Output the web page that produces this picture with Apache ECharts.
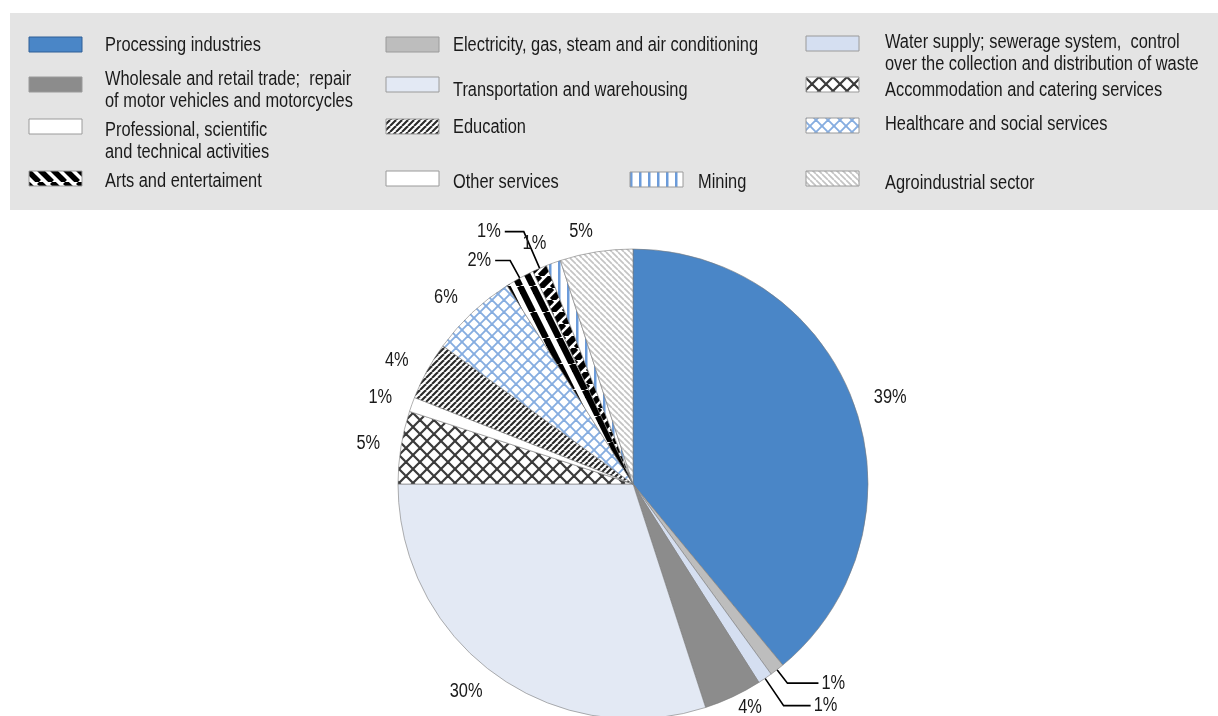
<!DOCTYPE html>
<html>
<head>
<meta charset="utf-8">
<script src="https://cdn.jsdelivr.net/npm/echarts@6/dist/echarts.min.js"></script>
<style>
  html, body { margin: 0; padding: 0; background: #ffffff; }
  #chart { width: 1218px; height: 716px; }
</style>
</head>
<body>
<div id="chart"></div>
<script>
// Sectors in the order they run clockwise round the pie, starting at 12 o'clock
const categories = [
  'Processing industries',
  'Electricity, gas, steam and air conditioning',
  'Water supply; sewerage system,  control over the collection and distribution of waste',
  'Wholesale and retail trade;  repair of motor vehicles and motorcycles',
  'Transportation and warehousing',
  'Accommodation and catering services',
  'Professional, scientific and technical activities',
  'Education',
  'Healthcare and social services',
  'Arts and entertaiment',
  'Other services',
  'Mining',
  'Agroindustrial sector'
];

// Share of each sector, %
const shares = [39, 1, 1, 4, 30, 5, 1, 4, 6, 2, 1, 1, 5];

// Legend captions as they wrap in the key
const legendCaptions = [
  'Processing industries',
  'Electricity, gas, steam and air conditioning',
  'Water supply; sewerage system,  control\nover the collection and distribution of waste',
  'Wholesale and retail trade;  repair\nof motor vehicles and motorcycles',
  'Transportation and warehousing',
  'Accommodation and catering services',
  'Professional, scientific\nand technical activities',
  'Education',
  'Healthcare and social services',
  'Arts and entertaiment',
  'Other services',
  'Mining',
  'Agroindustrial sector'
];

// Arial-metric face, squeezed horizontally to a narrow cut
const FONT = '"Liberation Sans", Arial, sans-serif';
const NARROW = 0.82;

// ---- fill patterns -------------------------------------------------------
function tile(w, h, bg, draw) {
  const c = document.createElement('canvas');
  c.width = w; c.height = h;
  const g = c.getContext('2d');
  g.fillStyle = bg;
  g.fillRect(0, 0, w, h);
  draw(g, w, h);
  return { image: c, repeat: 'repeat' };
}
// lines across a tile; dir > 0 draws '/', dir < 0 draws '\'
function diag(g, w, h, color, lw, dir) {
  g.strokeStyle = color;
  g.lineWidth = lw;
  for (const o of [-w, 0, w]) {
    g.beginPath();
    if (dir > 0) { g.moveTo(o, h); g.lineTo(o + w, 0); }
    else { g.moveTo(o, 0); g.lineTo(o + w, h); }
    g.stroke();
  }
}
const lattice = (s, color, lw) => tile(s, s, '#ffffff', (g, w, h) => {
  diag(g, w, h, color, lw, 1);
  diag(g, w, h, color, lw, -1);
});

const fills = {
  'Processing industries': '#4a86c7',
  'Electricity, gas, steam and air conditioning': '#bdbdbd',
  'Water supply; sewerage system,  control over the collection and distribution of waste': '#d5dff1',
  'Wholesale and retail trade;  repair of motor vehicles and motorcycles': '#8c8c8c',
  'Transportation and warehousing': '#e3e9f4',
  'Accommodation and catering services': lattice(14, '#3a3a3a', 2.2),
  'Professional, scientific and technical activities': '#ffffff',
  'Education': tile(6, 6, '#ffffff', (g, w, h) => diag(g, w, h, '#2a2a2a', 2.1, 1)),
  'Healthcare and social services': lattice(12, '#86ade0', 1.9),
  // steep wide stripes running along the narrow sector
  'Arts and entertaiment': tile(13, 26, '#ffffff', (g, w, h) => diag(g, w, h, '#000000', 6.5, -1)),
  'Other services': tile(12, 12, '#ffffff', (g, w, h) => diag(g, w, h, '#000000', 6, 1)),
  'Mining': tile(9, 9, '#ffffff', (g, w, h) => { g.fillStyle = '#6b9bda'; g.fillRect(0, 0, 2.5, h); }),
  'Agroindustrial sector': tile(6, 6, '#ffffff', (g, w, h) => diag(g, w, h, '#c4c4c4', 1.7, -1))
};
// key swatches that differ from the fill used in the pie
const keyFills = {
  'Arts and entertaiment': tile(13, 13, '#ffffff', (g, w, h) => diag(g, w, h, '#000000', 5.5, -1)),
  'Other services': '#ffffff'
};
const swatchStroke = {
  'Processing industries': '#2f5f96'
};

// ---- key layout: [swatch x, swatch y, caption x, first-line centre y] ----
const keySlots = {
  'Processing industries': [29, 37, 105, 45],
  'Wholesale and retail trade;  repair of motor vehicles and motorcycles': [29, 77, 105, 79],
  'Professional, scientific and technical activities': [29, 119, 105, 130],
  'Arts and entertaiment': [29, 171, 105, 181],
  'Electricity, gas, steam and air conditioning': [386, 37, 453, 45],
  'Transportation and warehousing': [386, 77, 453, 90],
  'Education': [386, 119, 453, 127],
  'Other services': [386, 171, 453, 182],
  'Mining': [630, 172, 698, 182],
  'Water supply; sewerage system,  control over the collection and distribution of waste': [806, 36, 885, 42],
  'Accommodation and catering services': [806, 77, 885, 90],
  'Healthcare and social services': [806, 118, 885, 124],
  'Agroindustrial sector': [806, 171, 885, 183]
};

// label offsets from the rim; sectors with a leader line also get length2
const labelRuns = {
  'Electricity, gas, steam and air conditioning': { length: 17, length2: 31, gap: 3, line: true },
  'Water supply; sewerage system,  control over the collection and distribution of waste': { length: 33, length2: 27, gap: 3, line: true },
  'Wholesale and retail trade;  repair of motor vehicles and motorcycles': { length: 12, length2: 0, gap: 0 },
  'Arts and entertaiment': { length: 20, length2: 15, gap: 4, line: true },
  'Other services': { length: 40, length2: 19, gap: 4, line: true }
};

const graphics = [{
  type: 'rect', silent: true, z: 0,
  shape: { x: 10, y: 13, width: 1208, height: 197 },
  style: { fill: '#e4e4e4' }
}];
categories.forEach((name, i) => {
  const s = keySlots[name];
  graphics.push({
    type: 'rect', silent: true, z: 1,
    shape: { x: s[0], y: s[1], width: 53, height: 15 },
    style: {
      fill: keyFills[name] || fills[name],
      stroke: swatchStroke[name] || '#9a9a9a',
      lineWidth: 1
    }
  });
  graphics.push({
    type: 'text', silent: true, z: 1,
    x: s[2], y: s[3] - 11,
    scaleX: NARROW,
    style: {
      text: legendCaptions[i],
      font: '20px ' + FONT,
      fill: '#1a1a1a',
      lineHeight: 22,
      verticalAlign: 'top',
      align: 'left'
    }
  });
});

const pieData = categories.map((name, i) => {
  const item = { name, value: shares[i], itemStyle: { color: fills[name] } };
  const r = labelRuns[name];
  if (r) {
    item.labelLine = { show: !!r.line, length: r.length, length2: r.length2 };
    item.label = { distanceToLabelLine: r.gap };
  }
  return item;
});

const chart = echarts.init(document.getElementById('chart'), null, { renderer: 'canvas' });
chart.setOption({
  animation: false,
  backgroundColor: '#ffffff',
  graphic: graphics,
  series: [{
    type: 'pie',
    center: [633, 484],
    radius: 235,
    startAngle: 90,
    clockwise: true,
    avoidLabelOverlap: false,
    silent: true,
    itemStyle: { borderColor: '#7a7a7a', borderWidth: 0.6 },
    label: {
      position: 'outside',
      formatter: '{c}%',
      fontSize: 20,
      fontFamily: FONT,
      color: '#1a1a1a',
      distanceToLabelLine: 0
    },
    labelLine: {
      show: false,
      length: 21,
      length2: 0,
      smooth: false,
      lineStyle: { color: '#000000', width: 1.6 }
    },
    labelLayout: { hideOverlap: false, moveOverlap: null },
    data: pieData
  }]
});

// squeeze the percentage labels to the same narrow cut, keeping each anchor fixed
const pieSeries = chart.getModel().getSeriesByIndex(0);
const pieItems = pieSeries.getData();
pieItems.each(idx => {
  const sector = pieItems.getItemGraphicEl(idx);
  const label = sector && sector.getTextContent();
  if (label) {
    label.originX = 0;
    label.originY = 0;
    label.scaleX = NARROW;
    label.markRedraw();
  }
});
chart.getZr().refreshImmediately();
</script>
</body>
</html>
